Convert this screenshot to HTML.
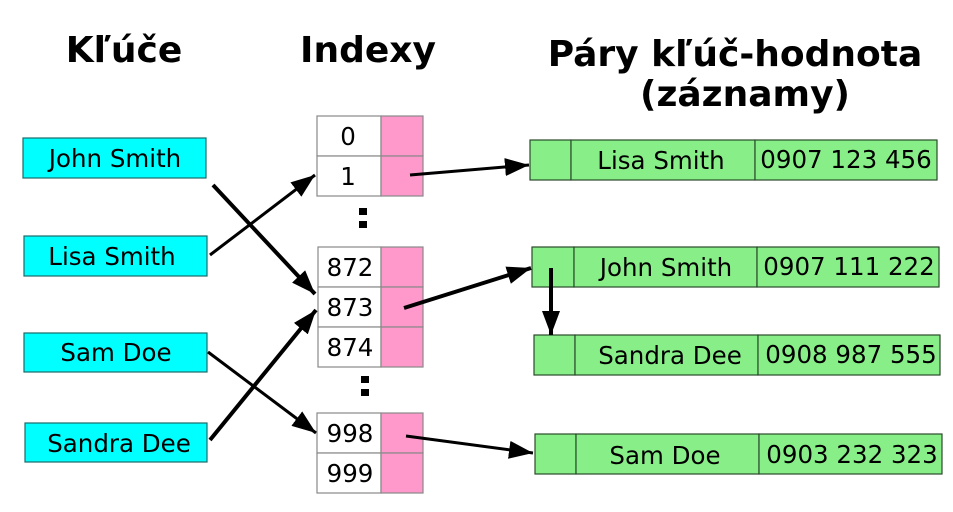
<!DOCTYPE html>
<html><head><meta charset="utf-8"><style>html,body{margin:0;padding:0;background:#fff}svg{display:block}</style></head>
<body>
<svg width="953" height="512" viewBox="0 0 953 512" xmlns="http://www.w3.org/2000/svg" font-family="DejaVu Sans, Liberation Sans, sans-serif">
<defs>
<marker id="a" viewBox="0 0 10 10" refX="10" refY="5" markerWidth="8" markerHeight="6" markerUnits="strokeWidth" orient="auto" preserveAspectRatio="none"><path d="M0,0 L10,5 L0,10 z" fill="#000"/></marker>
<marker id="b" viewBox="0 0 10 10" refX="10" refY="5" markerWidth="6" markerHeight="4.5" markerUnits="strokeWidth" orient="auto" preserveAspectRatio="none"><path d="M0,0 L10,5 L0,10 z" fill="#000"/></marker>
</defs>
<g font-weight="bold" font-size="36" text-anchor="middle" fill="#000">
<text x="124" y="62">Kľúče</text>
<text x="368" y="62">Indexy</text>
<text x="735" y="66">Páry kľúč-hodnota</text>
<text x="745" y="106">(záznamy)</text>
</g>
<g fill="#00ffff" stroke="#1a6a6a" stroke-width="1.2">
<rect x="23" y="138" width="183" height="40"/>
<rect x="24" y="236" width="183" height="40"/>
<rect x="24" y="333" width="183" height="39"/>
<rect x="25" y="423" width="182" height="39"/>
</g>
<g font-size="24.5" text-anchor="middle" fill="#000">
<text x="115" y="167">John Smith</text>
<text x="112" y="265">Lisa Smith</text>
<text x="116" y="361">Sam Doe</text>
<text x="119" y="452">Sandra Dee</text>
</g>
<g stroke="#888" stroke-width="1.2">
<g fill="#fff">
<rect x="317" y="116" width="64" height="40"/><rect x="317" y="156" width="64" height="40"/>
<rect x="318" y="247" width="63" height="40"/><rect x="318" y="287" width="63" height="40"/><rect x="318" y="327" width="63" height="40"/>
<rect x="317" y="413" width="64" height="40"/><rect x="317" y="453" width="64" height="40"/>
</g>
<g fill="#ff99cc">
<rect x="381" y="116" width="42" height="40"/><rect x="381" y="156" width="42" height="40"/>
<rect x="381" y="247" width="42" height="40"/><rect x="381" y="287" width="42" height="40"/><rect x="381" y="327" width="42" height="40"/>
<rect x="381" y="413" width="42" height="40"/><rect x="381" y="453" width="42" height="40"/>
</g>
</g>
<g font-size="24.5" text-anchor="middle" fill="#000">
<text x="348" y="145">0</text><text x="348" y="185">1</text>
<text x="350" y="276">872</text><text x="350" y="316">873</text><text x="350" y="356">874</text>
<text x="350" y="442">998</text><text x="350" y="482">999</text>
</g>
<g fill="#000">
<rect x="359" y="208" width="8" height="7"/><rect x="359" y="221" width="8" height="7"/>
<rect x="361" y="376" width="8" height="7"/><rect x="361" y="389" width="8" height="7"/>
</g>
<g fill="#88ee88" stroke="#2a4a2a" stroke-width="1.2">
<rect x="530" y="140" width="41" height="40"/><rect x="571" y="140" width="184" height="40"/><rect x="755" y="140" width="182" height="40"/>
<rect x="532" y="247" width="42" height="40"/><rect x="574" y="247" width="183" height="40"/><rect x="757" y="247" width="182" height="40"/>
<rect x="534" y="335" width="41" height="40"/><rect x="575" y="335" width="183" height="40"/><rect x="758" y="335" width="182" height="40"/>
<rect x="535" y="434" width="41" height="40"/><rect x="576" y="434" width="183" height="40"/><rect x="759" y="434" width="183" height="40"/>
</g>
<g font-size="24.5" text-anchor="middle" fill="#000">
<text x="661" y="169">Lisa Smith</text><text x="846" y="168">0907 123 456</text>
<text x="666" y="276">John Smith</text><text x="849" y="275">0907 111 222</text>
<text x="670" y="364">Sandra Dee</text><text x="851" y="363">0908 987 555</text>
<text x="665" y="464">Sam Doe</text><text x="852" y="463">0903 232 323</text>
</g>
<g stroke="#000" fill="none">
<line x1="213" y1="185" x2="315" y2="294" stroke-width="4" marker-end="url(#b)"/>
<line x1="210" y1="255" x2="315" y2="175" stroke-width="3" marker-end="url(#a)"/>
<line x1="208" y1="352" x2="316" y2="433" stroke-width="3" marker-end="url(#a)"/>
<line x1="210" y1="440" x2="316" y2="310" stroke-width="4" marker-end="url(#b)"/>
<line x1="410" y1="175" x2="529" y2="165" stroke-width="3" marker-end="url(#a)"/>
<line x1="404" y1="308" x2="531" y2="268" stroke-width="4" marker-end="url(#b)"/>
<line x1="406" y1="436" x2="533" y2="453" stroke-width="3" marker-end="url(#a)"/>
<line x1="551" y1="268" x2="551" y2="335" stroke-width="4" marker-end="url(#b)"/>
</g>
</svg>
</body></html>
